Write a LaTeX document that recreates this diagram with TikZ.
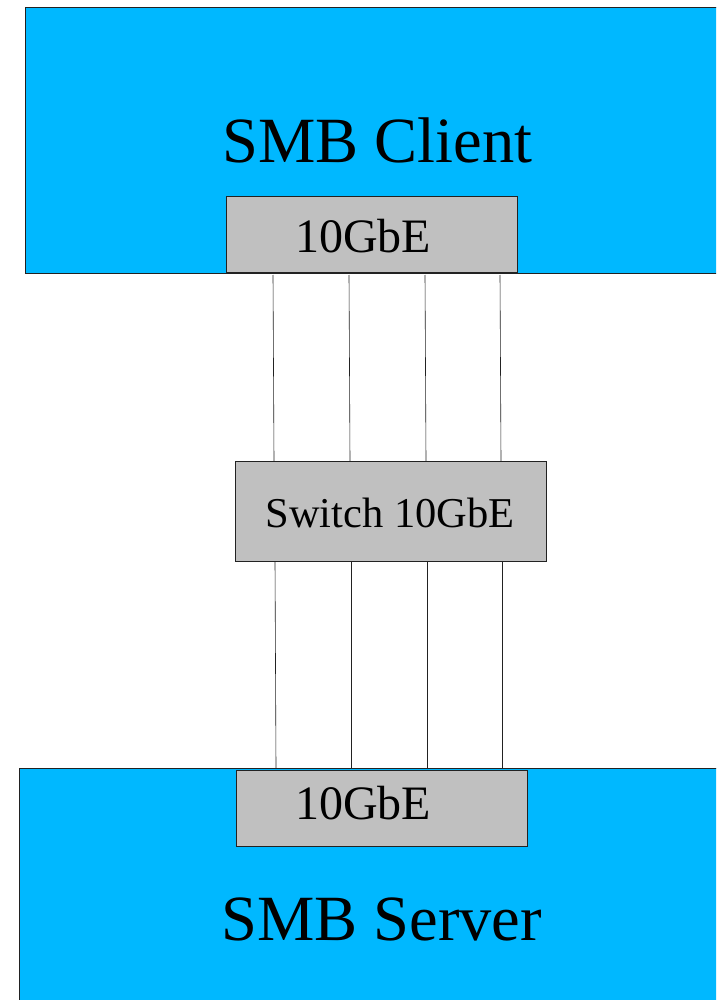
\documentclass[tikz,border=0pt]{standalone}
\usepackage{fontspec}
\setmainfont{Liberation Serif}
\usetikzlibrary{calc}
\definecolor{skyb}{HTML}{00B8FF}
\definecolor{boxgray}{HTML}{C0C0C0}
\definecolor{edge}{HTML}{222222}
\begin{document}
\begin{tikzpicture}[x=1pt,y=-1pt,
  host/.style={draw=edge,line width=0.8pt,fill=skyb},
  nic/.style={draw=edge,line width=0.8pt,fill=boxgray},
  wire/.style={draw=edge,line width=0.6pt},
  lbl/.style={anchor=base,inner sep=0pt}]
\useasboundingbox (0,0) rectangle (716,1000);
\clip (0,0) rectangle (716,1000);
% client
\path[host] (25,7) rectangle (730,273);
\node[lbl,font=\fontsize{64.5}{70}\selectfont] (client) at (377.5,163) {SMB Client};
\path[nic] (226,196) rectangle (517,272);
\node[lbl,font=\fontsize{48}{52}\selectfont] (nic1) at (363,252) {10GbE};
% switch
\path[nic] (235,461) rectangle (546,561);
\node[lbl,font=\fontsize{42.5}{48}\selectfont] (sw) at (390,527) {Switch 10GbE};
% server
\path[host] (19,768) rectangle (730,1010);
\path[nic] (236,770) rectangle (527,846);
\node[lbl,font=\fontsize{48}{52}\selectfont] (nic2) at (363,819) {10GbE};
\node[lbl,font=\fontsize{64.5}{70}\selectfont] (server) at (381.5,940) {SMB Server};
% wire endpoints
\foreach \i/\a/\b/\c/\d in {1/273/274/275/276, 2/349/350/351/351, 3/425/426/427/427, 4/500/501/502/502}{
  \coordinate (ct\i) at (\a,275);
  \coordinate (st\i) at (\b,461);
  \coordinate (sb\i) at (\c,561);
  \coordinate (vt\i) at (\d,768);
}
\foreach \i in {1,2,3,4}{
  \draw[wire] (ct\i) -- (st\i);
  \draw[wire] (sb\i) -- (vt\i);
}
\end{tikzpicture}
\end{document}
